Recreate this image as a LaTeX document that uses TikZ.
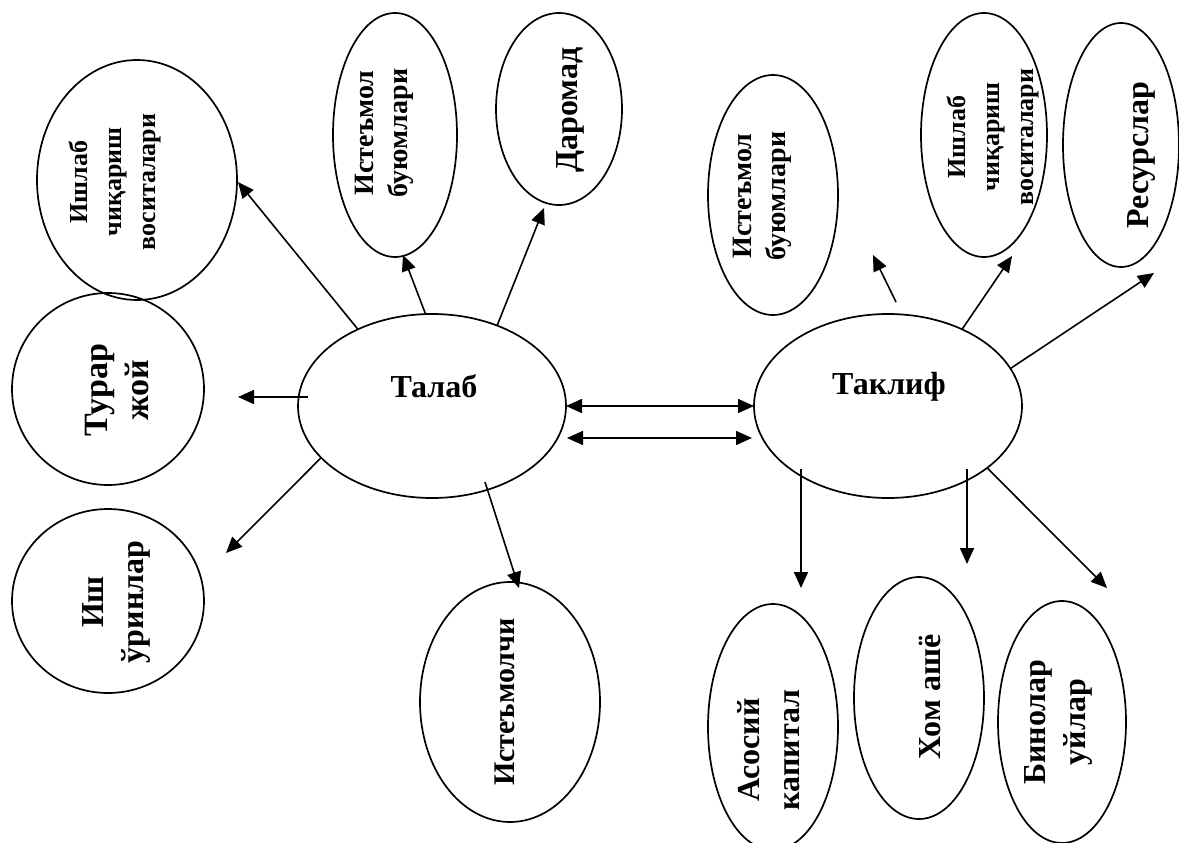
\documentclass[tikz,border=0pt]{standalone}
\usepackage{fontspec}
\setmainfont{Liberation Serif}
\usetikzlibrary{shapes.geometric,arrows.meta}
\begin{document}
\begin{tikzpicture}[x=1pt,y=-1pt,
  ell/.style={draw,ellipse,line width=1.7pt,inner sep=0pt,outer sep=0pt},
  vt/.style={rotate=90,align=center,inner sep=0pt},
  ht/.style={align=center,inner sep=0pt},
  fA/.style={font=\fontsize{26}{34}\selectfont\bfseries},
  fB/.style={font=\fontsize{28}{34}\selectfont\bfseries},
  fC/.style={font=\fontsize{30}{36}\selectfont\bfseries},
  fH/.style={font=\fontsize{32}{38}\selectfont\bfseries},
  fD/.style={font=\fontsize{32}{40}\selectfont\bfseries},
  fE/.style={font=\fontsize{34}{41}\selectfont\bfseries},
  arr/.style={line width=1.6pt,-{Triangle[length=16pt,width=14pt]}},
  darr/.style={line width=1.6pt,{Triangle[length=16pt,width=14pt]}-{Triangle[length=16pt,width=14pt]}}
]
\useasboundingbox (0,0) rectangle (1179,843);

% central ellipses
\node[ell,minimum width=268pt,minimum height=184pt] (talab) at (432,406) {};
\node[ht,fH] (talabt) at (434,386) {Талаб};
\node[ell,minimum width=268pt,minimum height=184pt] (taklif) at (888,406) {};
\node[ht,fH] (taklift) at (889,387) {Таклиф};

% demand side
\node[ell,minimum width=200pt,minimum height=240pt] (ish1) at (137,180) {};
\node[vt,fA] (ish1t) at (115,182) {Ишлаб\\чиқариш\\воситалари};
\node[ell,minimum width=124pt,minimum height=244pt] (ist1) at (395,135) {};
\node[vt,fB] (ist1t) at (384,133) {Истеъмол\\буюмлари};
\node[ell,minimum width=126pt,minimum height=192pt] (dar) at (559,109) {};
\node[vt,fD] (dart) at (570,110) {Даромад};
\node[ell,minimum width=192pt,minimum height=192pt] (tur) at (108,389) {};
\node[vt,fE] (turt) at (117,390) {Турар\\жой};
\node[ell,minimum width=192pt,minimum height=184pt] (ishu) at (108,601) {};
\node[vt,fD] (ishut) at (116,602) {Иш\\ўринлар};
\node[ell,minimum width=180pt,minimum height=240pt] (iste) at (510,702) {};
\node[vt,fC] (istet) at (505,702) {Истеъмолчи};

% supply side
\node[ell,minimum width=130pt,minimum height=240pt] (ist2) at (773,195) {};
\node[vt,fB] (ist2t) at (762,196) {Истеъмол\\буюмлари};
\node[ell,minimum width=126pt,minimum height=244pt] (ish2) at (984,135) {};
\node[vt,fA] (ish2t) at (993,137) {Ишлаб\\чиқариш\\воситалари};
\node[ell,minimum width=116pt,minimum height=244pt] (res) at (1121,145) {};
\node[vt,fD] (rest) at (1141,155) {Ресурслар};
\node[ell,minimum width=130pt,minimum height=246pt] (aso) at (773,727) {};
\node[vt,fD] (asot) at (769,750) {Асосий\\капитал};
\node[ell,minimum width=130pt,minimum height=242pt] (xom) at (919,698) {};
\node[vt,fD] (xomt) at (930,697) {Хом ашё};
\node[ell,minimum width=128pt,minimum height=242pt] (bin) at (1062,722) {};
\node[vt,fD] (bint) at (1058,722) {Бинолар\\уйлар};

% free arrow ends
\coordinate (t1) at (238,182);
\coordinate (t2) at (403,255);
\coordinate (t3) at (544,208);
\coordinate (s4) at (308,397);
\coordinate (t4) at (238,397);
\coordinate (t5) at (226,553);
\coordinate (s6) at (485,482);
\coordinate (t6) at (519,588);
\coordinate (dl) at (567,438);
\coordinate (dr) at (752,438);
\coordinate (sb1) at (896,302);
\coordinate (tb1) at (873,255);
\coordinate (tb2) at (1012,256);
\coordinate (tb3) at (1154,273);
\coordinate (sb4) at (801,469);
\coordinate (tb4) at (801,588);
\coordinate (sb5) at (967,469);
\coordinate (tb5) at (967,564);
\coordinate (tb6) at (1107,588);

% arrows from Talab
\draw[arr] (talab.134) -- (t1);
\draw[arr] (talab.94) -- (t2);
\draw[arr] (talab.51) -- (t3);
\draw[arr] (s4) -- (t4);
\draw[arr] (talab.205) -- (t5);
\draw[arr] (s6) -- (t6);

% double arrows
\draw[darr] (talab.east) -- (taklif.west);
\draw[darr] (dl) -- (dr);

% arrows from Taklif
\draw[arr] (sb1) -- (tb1);
\draw[arr] (taklif.46) -- (tb2);
\draw[arr] (taklif.17) -- (tb3);
\draw[arr] (sb4) -- (tb4);
\draw[arr] (sb5) -- (tb5);
\draw[arr] (taklif.-32) -- (tb6);
\end{tikzpicture}
\end{document}
